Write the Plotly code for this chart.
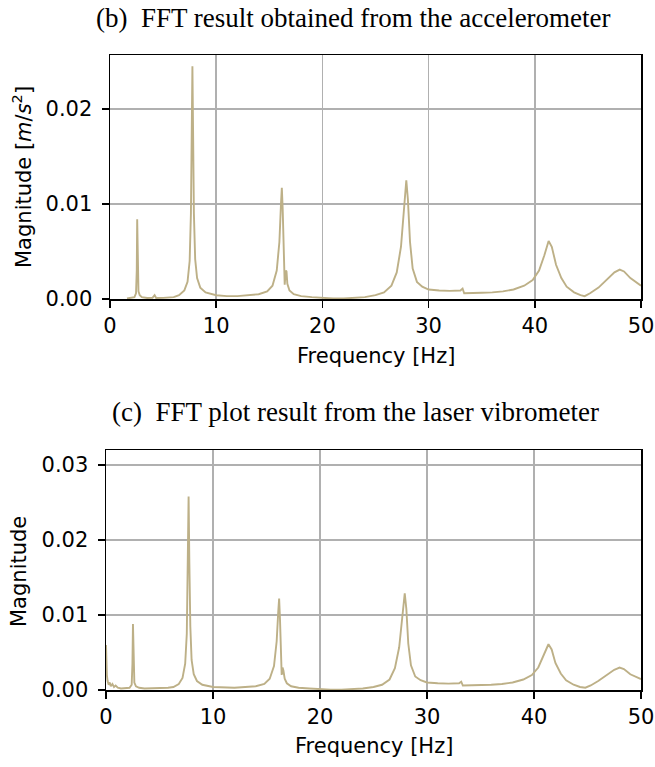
import plotly.graph_objects as go

# ---- data ----
acc_freq = [1.6, 2.0, 2.3, 2.45, 2.52, 2.56, 2.60, 2.68, 2.8, 3.0, 3.5, 4.0, 4.2, 4.35, 5.0, 5.5,
            6.0, 6.5, 7.0, 7.3, 7.5, 7.62, 7.70, 7.76, 7.82, 7.90, 8.02, 8.2, 8.5, 9.0, 10.0,
            11.0, 12.0, 13.0, 14.0, 14.8, 15.3, 15.7, 15.95, 16.1, 16.18, 16.26, 16.35, 16.45,
            16.55, 16.62, 16.7, 16.9, 17.3, 18.0, 19.0, 20.0, 21.0, 22.0, 23.0, 24.0, 25.0,
            25.8, 26.5, 27.0, 27.4, 27.7, 27.9, 28.05, 28.25, 28.5, 28.9, 29.4, 30.0, 31.0,
            32.0, 33.0, 33.2, 33.35, 34.0, 35.0, 36.0, 37.0, 38.0, 39.0, 39.8, 40.4, 40.9,
            41.3, 41.6, 42.0, 42.5, 43.0, 43.7, 44.3, 44.7, 45.2, 46.0, 46.8, 47.5, 48.0,
            48.4, 49.0, 49.5, 50.0]
acc_mag = [0.00005, 0.0001, 0.0002, 0.0006, 0.0030, 0.0084, 0.0030, 0.0008, 0.0004, 0.0002,
           0.0001, 0.00012, 0.0004, 0.0001, 0.00012, 0.00015, 0.0002, 0.0004, 0.0009, 0.0018,
           0.0040, 0.0090, 0.0180, 0.0245, 0.0180, 0.0090, 0.0042, 0.0022, 0.0012, 0.0007,
           0.0004, 0.0003, 0.0003, 0.0004, 0.0005, 0.0008, 0.0014, 0.0030, 0.0060, 0.0100,
           0.0117, 0.0095, 0.0050, 0.0015, 0.0030, 0.0029, 0.0016, 0.0009, 0.0005, 0.0003,
           0.0002, 0.0001, 0.00005, 0.00005, 0.0001, 0.0002, 0.0004, 0.0007, 0.0014, 0.0028,
           0.0055, 0.0095, 0.0125, 0.0105, 0.0060, 0.0032, 0.0018, 0.0013, 0.0010, 0.0009,
           0.00085, 0.0009, 0.0011, 0.0006, 0.0006, 0.00065, 0.0007, 0.0008, 0.0010, 0.0014,
           0.0020, 0.0030, 0.0046, 0.0061, 0.0055, 0.0036, 0.0022, 0.0013, 0.0007, 0.0004,
           0.0003, 0.0006, 0.0012, 0.0020, 0.0028, 0.0031, 0.0029, 0.0022, 0.0018, 0.0014]

las_freq = [0.0, 0.03, 0.08, 0.15, 0.25, 0.35, 0.45, 0.6, 0.75, 0.9, 1.1, 1.4, 1.8, 2.2, 2.40,
            2.47, 2.52, 2.57, 2.65, 2.8, 3.1, 3.6, 4.0, 4.3, 4.6, 5.2, 5.8, 6.3, 6.8, 7.15, 7.4,
            7.55, 7.65, 7.72, 7.79, 7.88, 8.0, 8.2, 8.5, 9.0, 10.0, 11.0, 12.0, 13.0, 14.0,
            14.8, 15.3, 15.7, 15.95, 16.1, 16.18, 16.26, 16.35, 16.42, 16.5, 16.58, 16.7,
            16.9, 17.3, 18.0, 19.0, 20.0, 21.0, 22.0, 23.0, 24.0, 25.0, 25.8, 26.5, 27.0,
            27.4, 27.7, 27.92, 28.07, 28.25, 28.5, 28.9, 29.4, 30.0, 31.0, 32.0, 33.0, 33.2,
            33.35, 34.0, 35.0, 36.0, 37.0, 38.0, 39.0, 39.8, 40.4, 40.9, 41.35, 41.65, 42.0,
            42.5, 43.0, 43.7, 44.3, 44.8, 45.3, 46.0, 46.8, 47.5, 48.0, 48.4, 49.0, 49.5, 50.0]
las_mag = [0.0060, 0.0035, 0.0020, 0.0012, 0.0007, 0.0010, 0.0005, 0.0008, 0.0004, 0.0006,
           0.0003, 0.0002, 0.0002, 0.0003, 0.0007, 0.0035, 0.0088, 0.0035, 0.0010, 0.0005,
           0.0003, 0.0002, 0.0002, 0.0003, 0.0002, 0.0002, 0.0003, 0.0004, 0.0008, 0.0016,
           0.0035, 0.0075, 0.0160, 0.0258, 0.0170, 0.0085, 0.0040, 0.0021, 0.0012, 0.0007,
           0.0004, 0.0003, 0.0003, 0.0004, 0.0005, 0.0008, 0.0015, 0.0032, 0.0065, 0.0105,
           0.0122, 0.0095, 0.0045, 0.0020, 0.0030, 0.0026, 0.0015, 0.0009, 0.0005, 0.0003,
           0.0002, 0.0001, 0.00005, 0.00005, 0.0001, 0.0002, 0.0004, 0.0007, 0.0014, 0.0029,
           0.0057, 0.0098, 0.0129, 0.0108, 0.0062, 0.0033, 0.0018, 0.0013, 0.0010, 0.0009,
           0.00085, 0.0009, 0.0011, 0.0006, 0.0006, 0.00065, 0.0007, 0.0008, 0.0010, 0.0014,
           0.0020, 0.0030, 0.0046, 0.0061, 0.0054, 0.0036, 0.0022, 0.0013, 0.0007, 0.0004,
           0.0003, 0.0006, 0.0012, 0.0020, 0.0027, 0.0030, 0.0028, 0.0021, 0.0018, 0.00145]

x_ticks = [0, 10, 20, 30, 40, 50]
top_yticks = [0.0, 0.01, 0.02]
bot_yticks = [0.0, 0.01, 0.02, 0.03]

titles = ["(b)\u00a0\u00a0FFT result obtained from the accelerometer",
          "(c)\u00a0\u00a0FFT plot result from the laser vibrometer"]
x_label = "Frequency [Hz]"
y_labels = ["Magnitude [<i>m</i>/<i>s</i><sup>2</sup>]", "Magnitude"]

# ---- figure ----
W, H = 655, 767
LINE = "#bdb087"
SANS = "DejaVu Sans"
SERIF = "Liberation Serif"
FS = 21

fig = go.Figure()
fig.add_trace(go.Scatter(x=acc_freq, y=acc_mag, mode="lines",
                         line=dict(color=LINE, width=1.9), xaxis="x", yaxis="y", showlegend=False))
fig.add_trace(go.Scatter(x=las_freq, y=las_mag, mode="lines",
                         line=dict(color=LINE, width=1.9), xaxis="x2", yaxis="y2", showlegend=False))

def px_x(p):
    return p / W

def px_y(p):
    return (H - p) / H

axis_common = dict(showline=True, linecolor="black", linewidth=1.5, mirror=True,
                   ticks="outside", ticklen=7, tickwidth=1.5, tickcolor="black",
                   showgrid=True, gridcolor="#b0b0b0", gridwidth=1.5, zeroline=False,
                   automargin=False,
                   tickfont=dict(family=SANS, size=FS, color="black"))

fig.update_layout(
    template="none",
    width=W, height=H, margin=dict(l=0, r=0, t=0, b=0, pad=0),
    paper_bgcolor="white", plot_bgcolor="white",
    hovermode=False,
    xaxis=dict(domain=[px_x(110), px_x(641)], range=[0, 50], tickvals=x_ticks,
               ticktext=[str(v) for v in x_ticks], anchor="y", **axis_common),
    yaxis=dict(domain=[px_y(299), px_y(55)], range=[0, 0.02568], tickvals=top_yticks,
               ticktext=["%.2f" % v for v in top_yticks], anchor="x",
               ticklabelstandoff=5, **axis_common),
    xaxis2=dict(domain=[px_x(106), px_x(641)], range=[0, 50], tickvals=x_ticks,
                ticktext=[str(v) for v in x_ticks], anchor="y2", **axis_common),
    yaxis2=dict(domain=[px_y(690), px_y(450)], range=[0, 0.0320], tickvals=bot_yticks,
                ticktext=["%.2f" % v for v in bot_yticks], anchor="x2",
                ticklabelstandoff=5, **axis_common),
)

ann = []
ann.append(dict(text=titles[0], x=px_x(353), y=px_y(18), xref="paper", yref="paper",
                showarrow=False, xanchor="center", yanchor="middle",
                font=dict(family=SERIF, size=27, color="black")))
ann.append(dict(text=titles[1], x=px_x(355), y=px_y(412), xref="paper", yref="paper",
                showarrow=False, xanchor="center", yanchor="middle",
                font=dict(family=SERIF, size=27, color="black")))
ann.append(dict(text=x_label, x=px_x(375.5), y=px_y(356), xref="paper", yref="paper",
                showarrow=False, xanchor="center", yanchor="middle",
                font=dict(family=SANS, size=FS, color="black")))
ann.append(dict(text=x_label, x=px_x(373.5), y=px_y(746), xref="paper", yref="paper",
                showarrow=False, xanchor="center", yanchor="middle",
                font=dict(family=SANS, size=FS, color="black")))
ann.append(dict(text=y_labels[0], x=px_x(22), y=px_y(177), xref="paper", yref="paper",
                showarrow=False, xanchor="center", yanchor="middle", textangle=-90,
                font=dict(family=SANS, size=FS, color="black")))
ann.append(dict(text=y_labels[1], x=px_x(19), y=px_y(572), xref="paper", yref="paper",
                showarrow=False, xanchor="center", yanchor="middle", textangle=-90,
                font=dict(family=SANS, size=FS, color="black")))
fig.update_layout(annotations=ann)

fig.write_html("out.html",
               config={"displayModeBar": False, "staticPlot": True},
               post_script="document.body.style.margin='0';document.body.style.padding='0';"
                           "document.documentElement.style.overflow='hidden';")
